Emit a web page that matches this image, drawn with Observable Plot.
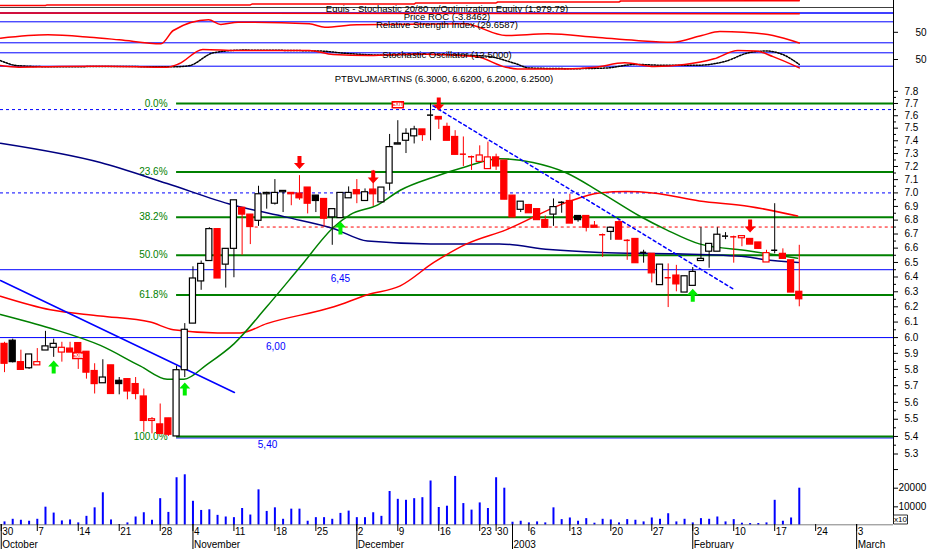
<!DOCTYPE html>
<html><head><meta charset="utf-8">
<script src="https://cdn.jsdelivr.net/npm/d3@7"></script>
<script src="https://cdn.jsdelivr.net/npm/@observablehq/plot@0.6"></script>
<style>
body{margin:0;background:#fff;}
#c{position:relative;width:932px;height:549px;overflow:hidden;background:#fff;}
#c svg{position:absolute;left:0;top:0;}
</style></head><body><div id="c"></div>
<script>
// ---------- data ----------
const opens  = [5.96,5.98,5.845,5.807,5.825,5.918,5.935,5.905,5.93,5.965,5.91,5.79,5.715,5.825,5.73,5.74,5.71,5.635,5.49,5.47,5.505,5.40,5.795,6.09,6.37,6.51,6.735,6.485,6.595,6.89,6.84,6.795,6.99,6.92,7.005,7.00,6.995,7.04,6.98,6.955,6.82,6.815,6.96,7.02,6.94,7.025,6.93,7.07,7.37,7.40,7.435,7.49,7.60,7.59,7.51,7.43,7.30,7.28,7.235,7.18,7.27,7.245,6.98,6.875,6.91,6.88,6.80,6.84,6.935,6.94,6.83,6.83,6.76,6.70,6.715,6.785,6.66,6.665,6.575,6.56,6.345,6.40,6.41,6.295,6.34,6.51,6.575,6.575,6.69,6.685,6.67,6.665,6.64,6.50,6.59,6.56,6.515,6.30];
const highs  = [5.97,5.99,5.92,5.893,5.93,6.04,5.99,5.97,5.97,5.965,5.91,5.835,5.86,5.825,5.75,5.74,5.75,5.68,5.51,5.59,5.505,5.82,6.09,6.47,6.51,6.745,6.735,6.595,6.945,6.89,6.84,7.05,7.005,7.10,7.015,7.00,7.13,7.04,6.98,6.955,6.88,7.00,7.045,7.10,7.03,7.17,7.04,7.45,7.56,7.495,7.515,7.49,7.70,7.59,7.54,7.48,7.43,7.28,7.36,7.39,7.295,7.245,6.98,6.935,6.915,6.88,6.83,6.955,6.935,6.99,6.83,6.83,6.79,6.70,6.745,6.80,6.66,6.665,6.585,6.56,6.485,6.49,6.48,6.405,6.465,6.745,6.63,6.745,6.71,6.685,6.685,6.665,6.64,6.585,6.92,6.595,6.515,6.62];
const lows   = [5.78,5.84,5.795,5.80,5.825,5.918,5.875,5.845,5.905,5.80,5.74,5.65,5.715,5.65,5.645,5.615,5.615,5.425,5.415,5.41,5.40,5.40,5.75,6.09,6.31,6.51,6.39,6.325,6.395,6.55,6.625,6.755,6.88,6.91,6.855,6.905,6.945,6.845,6.855,6.75,6.62,6.815,6.96,6.92,6.94,6.90,6.93,7.015,7.37,7.30,7.375,7.395,7.40,7.49,7.40,7.29,7.20,7.17,7.235,7.18,7.17,6.95,6.82,6.855,6.85,6.80,6.745,6.755,6.85,6.775,6.785,6.715,6.745,6.535,6.655,6.66,6.515,6.495,6.495,6.36,6.345,6.195,6.30,6.295,6.34,6.51,6.46,6.575,6.66,6.495,6.61,6.625,6.595,6.50,6.56,6.525,6.295,6.20];
const closes = [5.835,5.845,5.797,5.893,5.845,5.944,5.96,5.935,5.905,5.897,5.78,5.71,5.75,5.65,5.71,5.665,5.65,5.49,5.50,5.415,5.41,5.795,6.05,6.39,6.49,6.735,6.39,6.595,6.945,6.84,6.75,6.99,7.00,7.00,7.015,6.99,6.96,6.92,6.94,6.81,6.88,7.00,7.00,6.99,7.005,6.99,7.04,7.35,7.38,7.455,7.49,7.445,7.605,7.57,7.40,7.29,7.295,7.275,7.285,7.27,7.20,6.95,6.82,6.935,6.85,6.80,6.745,6.895,6.93,6.775,6.80,6.745,6.745,6.695,6.745,6.66,6.655,6.495,6.57,6.425,6.485,6.395,6.35,6.405,6.435,6.525,6.63,6.695,6.685,6.68,6.685,6.625,6.595,6.565,6.585,6.525,6.295,6.25];
// expert highlight: r = bearish (red), k = neutral (black)
const expertTone = "rkrkrkkrrr"+"rrkrkrrrrr"+"rkkkkkrkkr"+"rkkkkrrrkr"+"kkkrkrkkkk"+"krkrrrrrrr"+"rrrkrrrkkr"+"krrrkrrrkr"+"krrkkkkkkr"+"rrrrkrrr";
const volumes = [1930,3333,2807,2280,3333,9825,6667,2456,2982,1404,4912,9474,17544,2982,400,1404,4561,6842,2807,14386,7018,25614,27193,12982,8070,8421,5439,4561,4211,9123,5614,19123,7544,9474,3333,8772,8772,2280,4211,4211,3333,6491,7719,4211,4211,6842,4912,18246,14035,13509,14386,14912,23860,9649,10351,26316,11754,8246,12105,9123,25614,20000,1754,2280,1404,1930,1404,9474,3158,4035,2280,3684,1228,3333,2982,1404,3158,2807,1930,4035,3333,6316,1930,3333,1404,3684,3333,4561,1930,3158,1228,1053,1053,1404,13509,2280,4035,20000];

// moving averages (bar index, price)
const maLongIdx  = [-0.5,11.7,19.85,27.9,34.5,40.1,44.3,52,60.4,66.5,72.6,82,90.5,92.6,96.9];
const maLongVal  = [7.38,7.23,7.07,6.91,6.82,6.74,6.65,6.63,6.63,6.59,6.57,6.56,6.54,6.52,6.50];
const maMidIdx   = [-0.5,5.6,11.7,17.8,20.6,26,28.8,32,40.2,44.3,48.3,52.4,56.4,61.2,68.6,72.6,75.9,79.1,84.8,90.9,96.8];
const maMidVal   = [6.27,6.18,6.14,6.10,6.05,6.03,6.03,6.09,6.20,6.28,6.34,6.50,6.63,6.73,6.93,7.00,7.01,7.00,6.94,6.90,6.83];
const maShortIdx = [-0.5,5.6,11.7,16.6,19.85,21.9,24.7,28,32,36.1,40.2,42.2,45.5,48.3,52.4,56.4,60.4,64.5,68.6,72.6,77.5,80.8,84.8,90.9,96.8];
const maShortVal = [6.15,6.06,5.95,5.82,5.74,5.74,5.83,5.96,6.20,6.47,6.75,6.84,6.91,7.02,7.12,7.20,7.26,7.23,7.15,7.01,6.83,6.73,6.63,6.58,6.53];

// Fibonacci retracement
const fibLevels = [7.70,7.157,6.821,6.55,6.279,5.40];
const fibLabels = ["0.0%","23.6%","38.2%","50.0%","61.8%","100.0%"];
// horizontal support/resistance
const blueLevels = [6.45,6.00];
const blueLevelLabels = ["6,45","6,00"];
const blueLevelLabelIdx = [41,33.1];
const lowLevel = 5.40, lowLevelLabel = "5,40", lowLevelLabelIdx = 32.1;
const dashedBlueLevels = [7.65,7.00];
const dashedRedLevel = 6.75;
// trendlines: [idx, price]
const trendDown = [[-0.49,6.376],[28.06,5.659]];
const trendFromTop = [[52.3,7.68],[88.9,6.32]];

// expert signals
const buyIdx = [6,22,41,84], buyTip = [5.855,5.72,6.79,6.32];
const sellIdx = [36,45,53,91], sellTip = [7.18,7.07,7.643,6.71];
const exitIdx = [9,48], exitPrice = [5.887,7.69];

// indicators (bar index, value)
const rsiIdx = [-0.5,5.3,10.4,14,19.1,20.6,24.9,26.4,28.5,37.2,39.1,43,56.1,61.2,66.3,72.1,77.1,81.5,85.1,87.3,90.2,93.8,97];
const rsiVal = [38.8,45.2,40.7,35.7,28.1,53.4,73.8,64.9,69.2,66.2,59.7,64.3,66.2,43.9,47.1,40.7,34.4,31.1,43.9,51.5,50.2,43.9,29.66];
const stochIdx = [-0.5,1.7,6.8,12.6,19.8,21.3,24.2,28.5,37.2,40.1,44.5,50.3,57.5,61.2,62.6,68.4,72.1,75.7,79.3,83,86.6,89.5,91.7,93.8,97];
const stochVal = [23,15.5,18.7,20,15.5,31,95,90,90,72,68,75,63,15.5,8,8,15.5,35,18.7,27.6,53,90,88,63,12.5];
const stochDIdx = [-0.5,1.7,6.8,12.6,20.5,22.5,25.5,29,38.5,41.5,46,51.5,58.5,62.5,64,69.5,73.5,77,80.5,84.5,88,90.8,93,95,97];
const stochDVal = [45,22,17,19,17,22,80,92,88,78,70,73,66,30,12,9,12,28,24,24,42,80,88,72,28];
const equityIdx = [-0.5,5,5.2,30,30.2,50,50.2,60,60.2,75,75.2,97];
const equityVal = [1500,1500,1560,1560,1640,1640,1760,1760,1850,1850,1950,1979.79];
const rocIdx = [-0.5,97];
const rocVal = [0,-3.8462];

// date axis (bar index of each labelled tick)
const dayTickIdx = [-0.4,4,9,14,19,23,28,33,38,43,48,53,58,60,64,69,74,79,84,89,94,99,104];
const dayTickText = ["30","7","14","21","28","4","11","18","25","2","9","16","23","30","6","13","20","27","3","10","17","24","3"];
const monthTickIdx = [-0.4,23,43,62,84,104];
const monthTickText = ["October","November","December","2003","February","March"];
const volTicks = [10000,20000,30000];

// ---------- build ----------
const FONT = "'Liberation Sans', Arial, sans-serif";
const W = 932, H = 549;
const X = {domain:[-0.49,108.5], range:[0,893], axis:null};
const base = {width:W, height:H, marginLeft:0, marginRight:39, marginTop:0, marginBottom:0,
  style:{background:"transparent", fontFamily:FONT, fontSize:"10px", overflow:"visible"}, color:{type:"identity"}};
const root = document.getElementById("c");

const candles = opens.map((o,i)=>({i, o, h:highs[i], l:lows[i], c:closes[i], col: expertTone[i]==="r" ? "#ff0000" : "#000000"}));
const bodyW = 0.37;
const pts = (a,b)=>a.map((x,k)=>({i:x, v:b[k]}));

const upArrow = {draw(ctx){ctx.moveTo(0,0);ctx.lineTo(5.5,6);ctx.lineTo(2,6);ctx.lineTo(2,13);ctx.lineTo(-2,13);ctx.lineTo(-2,6);ctx.lineTo(-5.5,6);ctx.closePath();}};
const downArrow = {draw(ctx){ctx.moveTo(0,0);ctx.lineTo(5.5,-6);ctx.lineTo(2,-6);ctx.lineTo(2,-13);ctx.lineTo(-2,-13);ctx.lineTo(-2,-6);ctx.lineTo(-5.5,-6);ctx.closePath();}};
const exitBox = {draw(ctx){ctx.rect(-5.5,-3,11,6);}};
const unitBox = {draw(ctx){ctx.rect(0,-4.5,14,9);}};

const priceTicks = d3.range(53,79).map(v=>v/10);
const priceMinor = d3.range(53,78).map(v=>v/10+0.05);

const price = Plot.plot({...base,
  x: X,
  y: {type:"log", domain:[5.3,7.8], range:[453.5,90.86], axis:null},
  marks: [
    Plot.ruleY(dashedBlueLevels, {x1:-0.49, x2:108.5, stroke:"#0000ff", strokeDasharray:"3,3"}),
    Plot.ruleY([dashedRedLevel], {x1:30.6, x2:108.5, stroke:"#ff0000", strokeDasharray:"3,3"}),
    Plot.ruleY(blueLevels, {x1:-0.49, x2:108.5, stroke:"#0000ff"}),
    Plot.ruleY([lowLevel], {x1:21.0, x2:108.5, stroke:"#0000ff", dy:1.5}),
    Plot.ruleY(fibLevels, {x1:21.0, x2:108.5, stroke:"#008000", strokeWidth:2}),
    Plot.text(fibLevels, {x:19.9, y:d=>d, text:(d,k)=>fibLabels[k], textAnchor:"end", fill:"#008000"}),
    Plot.text(blueLevels, {x:(d,k)=>blueLevelLabelIdx[k], y:d=>d, text:(d,k)=>blueLevelLabels[k], fill:"#0000ff", dy:9}),
    Plot.text([lowLevel], {x:lowLevelLabelIdx, y:d=>d, text:[lowLevelLabel], fill:"#0000ff", dy:8}),
    Plot.line(pts(maLongIdx,maLongVal), {x:"i", y:"v", stroke:"#000080", curve:"monotone-x"}),
    Plot.line(pts(maMidIdx,maMidVal), {x:"i", y:"v", stroke:"#ff0000", curve:"monotone-x"}),
    Plot.line(pts(maShortIdx,maShortVal), {x:"i", y:"v", stroke:"#008000", curve:"monotone-x"}),
    Plot.line(trendDown, {x:d=>d[0], y:d=>d[1], stroke:"#0000ff"}),
    Plot.line(trendFromTop, {x:d=>d[0], y:d=>d[1], stroke:"#0000ff", strokeDasharray:"3,3"}),
    Plot.ruleX(candles, {x:"i", y1:"l", y2:"h", stroke:"col"}),
    Plot.rect(candles.filter(d=>Math.abs(d.o-d.c)>0.006), {x1:d=>d.i-bodyW, x2:d=>d.i+bodyW, y1:"o", y2:"c",
      fill:d=>d.c>=d.o ? "#ffffff" : d.col, stroke:"col", strokeWidth:1.2}),
    Plot.ruleY(candles.filter(d=>Math.abs(d.o-d.c)<=0.006), {x1:d=>d.i-bodyW, x2:d=>d.i+bodyW, y:"c", stroke:"col", strokeWidth:1.5}),
    Plot.dot(buyIdx.map((x,k)=>({i:x, v:buyTip[k]})), {x:"i", y:"v", symbol:upArrow, fill:"#00ee00", stroke:null}),
    Plot.dot(sellIdx.map((x,k)=>({i:x, v:sellTip[k]})), {x:"i", y:"v", symbol:downArrow, fill:"#ff0000", stroke:null}),
    Plot.dot(exitIdx.map((x,k)=>({i:x, v:exitPrice[k]})), {x:"i", y:"v", symbol:exitBox, fill:"#ffffff", stroke:"#ff0000"}),
    Plot.text(exitIdx.map((x,k)=>({i:x, v:exitPrice[k]})), {x:"i", y:"v", text:()=>"EXIT", fill:"#ff0000", fontSize:5}),
    Plot.text(["PTBVLJMARTINS (6.3000, 6.6200, 6.2000, 6.2500)"], {frameAnchor:"top", lineAnchor:"middle", dy:78, dx:-3, fill:"#000", fontSize:9.5}),
    Plot.axisY(priceTicks, {anchor:"right", tickSize:4, tickPadding:7, tickFormat:d3.format(".1f"), label:null, fill:"#000"}),
    Plot.axisY(priceMinor, {anchor:"right", tickSize:2, tickFormat:()=>"", label:null}),
  ]
});
root.appendChild(price);

// volume + date axis
const vol = Plot.plot({...base, marginBottom:25,
  x: X,
  y: {domain:[0,20000], range:[525,487.7], axis:null},
  marks: [
    Plot.ruleX(volumes.map((v,i)=>({i,v})), {x:"i", y1:0, y2:"v", stroke:"#0000ff", strokeWidth:2}),
    Plot.ruleY([0], {x1:-0.49, x2:108.5, stroke:"#808080", dy:-0.7}),
    Plot.ruleX([108.5], {stroke:"#000"}),
    Plot.axisY(volTicks, {anchor:"right", tickSize:4, tickPadding:1, tickFormat:d=>d===30000?"":String(d), label:null}),
    Plot.dot([0], {x:108.5, y:0, symbol:unitBox, dy:-6, fill:"#ffffff", stroke:"#000", strokeWidth:0.8}),
    Plot.text(["x10"], {x:108.5, y:0, dx:7, dy:-6, fontSize:8}),
    Plot.axisX(dayTickIdx, {anchor:"bottom", tickSize:7, tickFormat:()=>"", label:null}),
    Plot.axisX(monthTickIdx, {anchor:"bottom", tickSize:25, tickFormat:()=>"", label:null}),
    Plot.text(dayTickIdx.map((x,k)=>({i:x, t:dayTickText[k]})), {x:"i", text:"t", frameAnchor:"bottom", lineAnchor:"middle", dy:7, dx:1, textAnchor:"start"}),
    Plot.text(monthTickIdx.map((x,k)=>({i:x, t:monthTickText[k]})), {x:"i", text:"t", frameAnchor:"bottom", lineAnchor:"middle", dy:20, dx:1, textAnchor:"start"}),
  ]
});
root.appendChild(vol);

// top indicator strip
const rsi = Plot.plot({...base,
  x: X, y:{domain:[0,100], range:[58.05,5.55], axis:null},
  marks:[
    Plot.ruleY([70,30], {x1:-0.49, x2:108.5, stroke:"#0000ff"}),
    Plot.line(pts(rsiIdx,rsiVal), {x:"i", y:"v", stroke:"#ff0000", curve:"monotone-x"}),
    Plot.text(["Relative Strength Index (29.6587)"], {frameAnchor:"top", lineAnchor:"middle", dy:24, fontSize:9.5}),
    Plot.axisY([50], {anchor:"right", tickSize:4, tickPadding:18, label:null}),
  ]});
root.appendChild(rsi);

const sto = Plot.plot({...base,
  x: X, y:{domain:[0,100], range:[70.17,47.83], axis:null},
  marks:[
    Plot.ruleY([80,20], {x1:-0.49, x2:108.5, stroke:"#0000ff"}),
    Plot.line(pts(stochDIdx,stochDVal), {x:"i", y:"v", stroke:"#000", strokeDasharray:"1.5,1.5", curve:"monotone-x"}),
    Plot.line(pts(stochIdx,stochVal), {x:"i", y:"v", stroke:"#ff0000", curve:"monotone-x"}),
    Plot.text(["Stochastic Oscillator (12.5000)"], {frameAnchor:"top", lineAnchor:"middle", dy:54, fontSize:9.5}),
    Plot.axisY([50], {anchor:"right", tickSize:4, tickPadding:18, label:null}),
  ]});
root.appendChild(sto);

const eq = Plot.plot({...base,
  x: X, y:{domain:[1400,2000], range:[6,0], axis:null},
  marks:[
    Plot.ruleY([1400], {x1:-0.49, x2:108.5, stroke:"#404040", dy:1}),
    Plot.line(pts(equityIdx,equityVal), {x:"i", y:"v", stroke:"#ff0000"}),
    Plot.text(["Equis - Stochastic 20/80 w/Optimization Equity (1,979.79)"], {frameAnchor:"top", lineAnchor:"middle", dy:8, fontSize:9.5}),
  ]});
root.appendChild(eq);

const roc = Plot.plot({...base,
  x: X, y:{domain:[-20,20], range:[16,9], axis:null},
  marks:[
    Plot.ruleY([0], {x1:-0.49, x2:108.5, stroke:"#0000ff", strokeWidth:1.5}),
    Plot.line(pts(rocIdx,rocVal), {x:"i", y:"v", stroke:"#ff0000"}),
    Plot.text(["Price ROC (-3.8462)"], {frameAnchor:"top", lineAnchor:"middle", dy:16, fontSize:9.5}),
  ]});
root.appendChild(roc);
</script></body></html>
